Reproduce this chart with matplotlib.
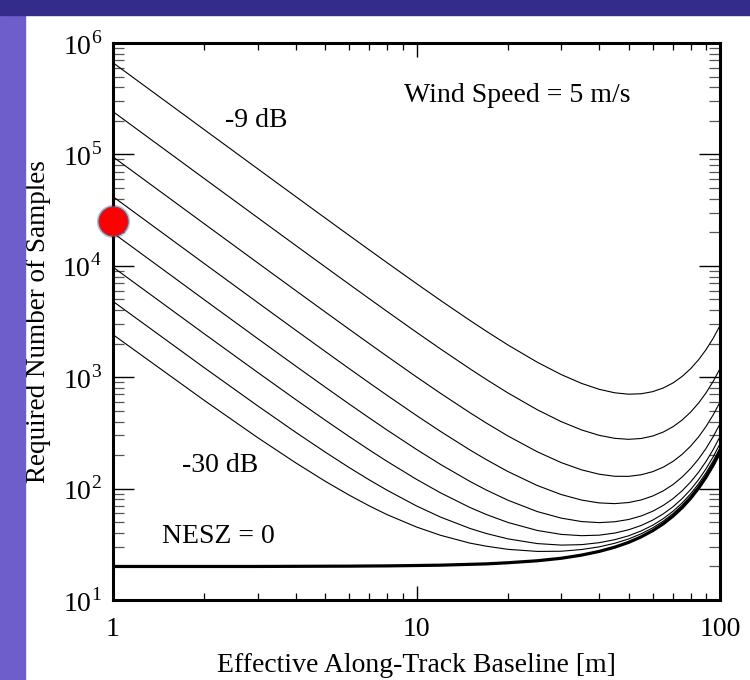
import numpy as np
import matplotlib
matplotlib.use('Agg')
import matplotlib.pyplot as plt
from matplotlib.patches import Rectangle
from matplotlib.ticker import LogLocator, FuncFormatter, NullFormatter

# Effective along-track baseline [m]
baseline = [1, 2, 3, 4, 5, 6, 7, 8, 10, 12, 15, 17, 20, 25, 30, 35, 40, 45, 50, 55, 60, 65, 70, 75,
            80, 85, 90, 95, 100]

# Required number of samples, one list per NESZ level
n_m9 = [665000, 166500, 74150, 41830, 26870, 18740, 13840, 10660, 6921, 4891, 3233, 2582, 1949,
        1363, 1055, 879.4, 778.5, 724.4, 703.7, 710.1, 741.7, 799.7, 888.3, 1015, 1191, 1434,
        1771, 2240, 2903]
n_m12 = [242100, 60600, 27000, 15230, 9789, 6832, 5049, 3892, 2531, 1793, 1190, 952.9, 723.0,
         510.4, 398.8, 336.1, 300.7, 282.6, 277.0, 281.8, 296.5, 321.7, 359.3, 412.2, 485.4,
         586.1, 725.2, 918.9, 1192]
n_m15 = [95070, 23810, 10610, 5994, 3856, 2695, 1995, 1541, 1006, 716.6, 479.8, 387.1, 297.0,
         214.1, 171.0, 147.3, 134.6, 129.0, 128.8, 133.1, 141.9, 155.7, 175.4, 202.8, 240.2,
         291.4, 361.9, 459.8, 597.5]
n_m18 = [41740, 10460, 4669, 2642, 1704, 1194, 886.8, 687.4, 453.1, 326.0, 222.3, 181.7, 142.4,
         106.6, 88.4, 78.9, 74.4, 73.3, 75.0, 79.1, 85.8, 95.4, 108.7, 126.8, 151.3, 184.5,
         230.0, 293.2, 381.9]
n_m21 = [19730, 4953, 2216, 1259, 815.5, 574.8, 429.6, 335.4, 224.8, 164.8, 116.0, 97.0, 78.7,
         62.2, 54.3, 50.6, 49.5, 50.4, 52.8, 56.8, 62.6, 70.6, 81.2, 95.5, 114.6, 140.4, 175.7,
         224.4, 292.9]
n_m24 = [9726, 2449, 1102, 630.1, 411.8, 293.3, 221.8, 175.5, 121.1, 91.6, 67.7, 58.5, 49.7,
         42.1, 38.8, 37.8, 38.2, 39.9, 42.7, 46.7, 52.1, 59.3, 68.7, 81.2, 97.9, 120.3, 150.9,
         193.2, 252.5]
n_m27 = [4794, 1215, 552.1, 320.2, 212.8, 154.5, 119.4, 96.7, 69.9, 55.5, 43.9, 39.5, 35.4,
         32.1, 31.1, 31.4, 32.7, 34.8, 37.7, 41.7, 46.9, 53.7, 62.6, 74.2, 89.7, 110.5, 138.8,
         177.8, 232.5]
n_m30 = [2410, 618.2, 286.3, 170.3, 116.5, 87.4, 69.8, 58.4, 45.2, 38.1, 32.4, 30.4, 28.5,
         27.3, 27.4, 28.4, 30.0, 32.3, 35.3, 39.3, 44.4, 51.0, 59.6, 70.8, 85.7, 105.7, 132.9,
         170.3, 222.9]
n_nesz0 = [20.0, 20.0, 20.0, 20.06, 20.1, 20.13, 20.2, 20.24, 20.4, 20.54, 20.9, 21.1, 21.6,
           22.5, 23.7, 25.3, 27.3, 29.8, 32.9, 36.9, 41.9, 48.3, 56.6, 67.4, 81.7, 100.9, 127.0,
           162.9, 213.2]

thin_curves = [n_m9, n_m12, n_m15, n_m18, n_m21, n_m24, n_m27, n_m30]

# marked point on the y axis
dot_x = 1
dot_y = 25200

plt.rcParams['font.family'] = ['Liberation Serif', 'DejaVu Serif']
plt.rcParams['mathtext.fontset'] = 'custom'
plt.rcParams['mathtext.rm'] = 'Liberation Serif'

fig = plt.figure(figsize=(7.5, 6.8), dpi=100)
fig.patch.set_facecolor('white')

# slide border (purple strips on left and top)
fig.patches.append(Rectangle((0, 0), 25 / 750, 1, transform=fig.transFigure,
                             color='#6e5ecb', zorder=0))
fig.patches.append(Rectangle((0, 1 - 15 / 680), 1, 15 / 680, transform=fig.transFigure,
                             color='#342c8a', zorder=0))

ax = fig.add_axes([113 / 750, 80 / 680, 607 / 750, 557 / 680])
ax.set_xscale('log')
ax.set_yscale('log')

for ys in thin_curves:
    ax.plot(baseline, ys, color='black', lw=0.8)
ax.plot(baseline, n_nesz0, color='black', lw=2.3)

# red dot with a soft dark halo
ax.plot([dot_x], [dot_y], 'o', ms=24, color='#303060', alpha=0.3, mew=0,
        clip_on=False, zorder=9)
ax.plot([dot_x], [dot_y], 'o', ms=21, color='#ff0000', mec='#7a4a70', mew=0.8,
        clip_on=False, zorder=10)

ax.set_xlim(1, 100)
ax.set_ylim(10, 1e6)

ax.yaxis.set_major_locator(LogLocator(base=10, numticks=10))
ax.yaxis.set_minor_locator(LogLocator(base=10, subs=np.arange(2, 10), numticks=100))
ax.yaxis.set_major_formatter(FuncFormatter(lambda v, p: r'$10^{%d}$' % round(np.log10(v))))
ax.yaxis.set_minor_formatter(NullFormatter())
ax.xaxis.set_major_formatter(FuncFormatter(lambda v, p: '%d' % round(v)))
ax.xaxis.set_minor_formatter(NullFormatter())

ax.tick_params(which='both', direction='in', top=True, right=True, labelsize=20)
ax.tick_params(axis='y', which='major', length=15, width=1.0, pad=8)
ax.tick_params(axis='y', which='minor', length=8, width=0.9, color='#555555')
ax.tick_params(axis='x', which='major', length=10, width=1.0, pad=12)
ax.tick_params(axis='x', which='minor', length=5, width=0.9)
for s in ax.spines.values():
    s.set_linewidth(2.2)

ax.set_xlabel('Effective Along-Track Baseline [m]', fontsize=20, labelpad=8)
ax.set_ylabel('Required Number of Samples', fontsize=19.5, labelpad=8)

ax.text(2.96, 2.0e5, '-9 dB', fontsize=20, ha='center', va='center')
ax.text(2.26, 160, '-30 dB', fontsize=20, ha='center', va='center')
ax.text(2.22, 37.5, 'NESZ = 0', fontsize=20, ha='center', va='center')
ax.text(21.4, 3.35e5, 'Wind Speed = 5 m/s', fontsize=20, ha='center', va='center')

fig.savefig('out.png', dpi=100)
